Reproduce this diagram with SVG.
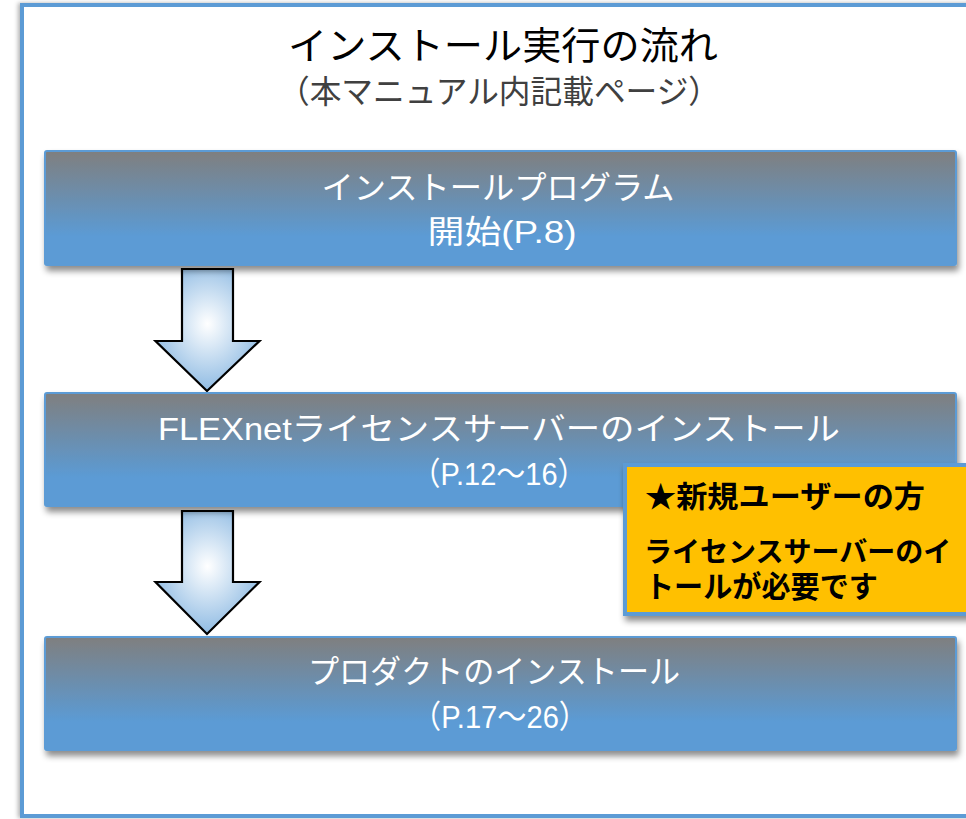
<svg xmlns="http://www.w3.org/2000/svg" width="966" height="819" viewBox="0 0 966 819">
<style>
.box{stroke:#5b9bd5;stroke-width:2;fill:url(#boxg);filter:url(#sh)}
.bt{font-family:"Liberation Sans","Noto Sans CJK JP",sans-serif;font-size:32px;fill:#ffffff;text-anchor:middle}
.arr{fill:url(#arrg);stroke:#000;stroke-width:2.2;stroke-linejoin:miter}
.ct{font-family:"Liberation Sans","Noto Sans CJK JP",sans-serif;font-size:30px;font-weight:bold;fill:#000}
.tt{font-family:"Noto Sans CJK JP",sans-serif;text-anchor:middle}
</style>
<defs>
<linearGradient id="boxg" x1="0" y1="0" x2="0" y2="1">
<stop offset="0" stop-color="#7f7f7f"/>
<stop offset="0.75" stop-color="#5b9bd5"/>
<stop offset="1" stop-color="#5b9bd5"/>
</linearGradient>
<radialGradient id="arrg" cx="0.5" cy="0.45" r="0.55">
<stop offset="0" stop-color="#ffffff"/>
<stop offset="1" stop-color="#8fbbe3"/>
</radialGradient>
<filter id="sh" x="-5%" y="-10%" width="115%" height="130%">
<feDropShadow dx="2" dy="5" stdDeviation="3" flood-color="#000" flood-opacity="0.45"/>
</filter>
<filter id="fsh" x="-5%" y="-5%" width="110%" height="110%">
<feDropShadow dx="-2" dy="0" stdDeviation="2" flood-color="#000" flood-opacity="0.3"/>
</filter>
</defs>
<rect x="0" y="0" width="966" height="819" fill="#ffffff"/>
<rect id="frame" x="22" y="5" width="1000" height="811" fill="#ffffff" stroke="#5b9bd5" stroke-width="4" filter="url(#fsh)"/>
<g id="title">
<text class="tt" x="503" y="59" font-size="38" fill="#000" textLength="430" lengthAdjust="spacingAndGlyphs">インストール実行の流れ</text>
<text class="tt" x="499" y="103" font-size="32" fill="#404040" textLength="442" lengthAdjust="spacingAndGlyphs">（本マニュアル内記載ページ）</text>
</g>
<g id="connectors">
<path class="arr" d="M182,269 H233 V341 H259.5 L207,391 L155.5,341 H182 Z"/>
<path class="arr" d="M182,511 H233 V582 H259.5 L207,634 L155.5,582 H182 Z"/>
</g>
<g id="node1">
<rect class="box" x="45" y="151" width="911" height="114" rx="2"/>
<text class="bt" x="498" y="199" textLength="353" lengthAdjust="spacingAndGlyphs">インストールプログラム</text>
<text class="bt" x="502" y="243" textLength="149" lengthAdjust="spacingAndGlyphs">開始(P.8)</text>
</g>
<g id="node2">
<rect class="box" x="45" y="393" width="911" height="113" rx="2"/>
<text class="bt" x="499" y="440" textLength="682" lengthAdjust="spacingAndGlyphs">FLEXnetライセンスサーバーのインストール</text>
<text class="bt" x="499" y="485" textLength="175" lengthAdjust="spacingAndGlyphs">（P.12～16）</text>
</g>
<g id="node3">
<rect class="box" x="45" y="637" width="911" height="113" rx="2"/>
<text class="bt" x="494" y="683" textLength="372" lengthAdjust="spacingAndGlyphs">プロダクトのインストール</text>
<text class="bt" x="500" y="728" textLength="176" lengthAdjust="spacingAndGlyphs">（P.17～26）</text>
</g>
<g id="callout">
<rect x="625" y="465" width="400" height="149" fill="#ffc000" stroke="#5b9bd5" stroke-width="4" filter="url(#sh)"/>
<text class="ct" x="645" y="507" textLength="280" lengthAdjust="spacingAndGlyphs">★新規ユーザーの方</text>
<text class="ct" x="644" y="562" font-size="28" style="font-size:28px">ライセンスサーバーのイ</text>
<text class="ct" x="645" y="597" textLength="233" lengthAdjust="spacingAndGlyphs">トールが必要です</text>
</g>
</svg>
